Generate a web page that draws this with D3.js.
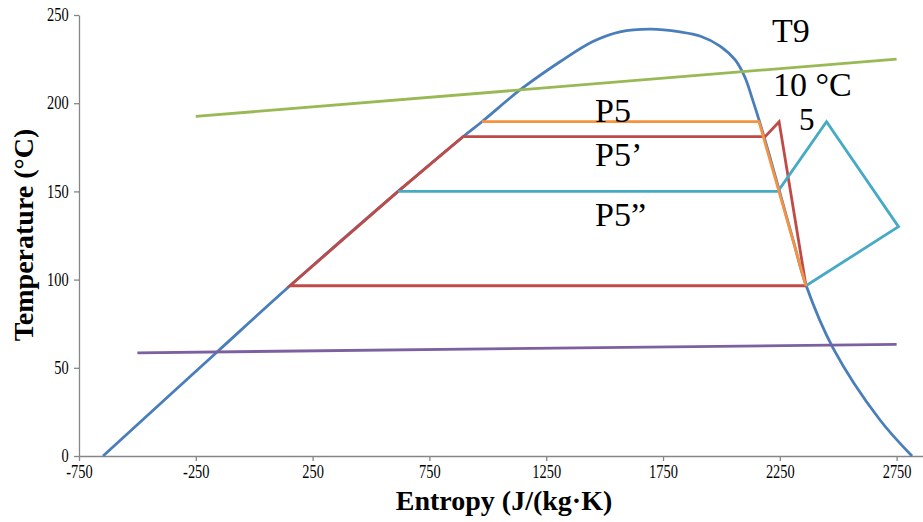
<!DOCTYPE html>
<html>
<head>
<meta charset="utf-8">
<script src="https://cdn.jsdelivr.net/npm/d3@7"></script>
<style>
  html, body { margin: 0; padding: 0; background: #fff; }
  svg { display: block; }
  text { font-family: "Liberation Serif", "Times New Roman", serif; }
</style>
</head>
<body>
<svg id="chart" width="923" height="522"></svg>
<script>
// ---- data ----
const xTicks = [-750, -250, 250, 750, 1250, 1750, 2250, 2750];
const yTicks = [0, 50, 100, 150, 200, 250];

// saturation dome
const domeS = [-647, -159, 153, 616, 894, 975, 1138, 1309, 1450, 1566, 1700, 1823, 1908, 1994, 2059, 2102, 2131, 2161, 2199, 2247, 2307, 2362, 2478, 2679, 2816];
const domeT = [0, 59, 96.5, 150, 181, 189.5, 207.5, 223.5, 235, 240.5, 242, 240.4, 238.1, 232.4, 224.5, 214.3, 203, 190.5, 173.5, 150.8, 122.4, 96.9, 61.2, 20.4, 0];

// heat source (T9) and sink lines
const hotS = [-250, 2750];
const hotT = [192.5, 225];
const coldS = [-500, 2750];
const coldT = [58.5, 63.3];

// cycles
const p5S = [975, 2161, 2362];
const p5T = [189.5, 189.5, 96.5];
const p5pS = [2362, 153, 616, 894, 2187, 2247, 2362];
const p5pT = [96.5, 96.5, 150, 181, 181, 189.5, 96.5];
const p5ppS = [616, 2242, 2450, 2758, 2362];
const p5ppT = [150, 150, 189.5, 130, 96.5];

const annotations = ["T9", "10 °C", "5", "P5", "P5’", "P5”"];

// ---- chart ----
const svg = d3.select("#chart");
const x = d3.scaleLinear().domain([-750, 2863]).range([79, 923]);
const y = d3.scaleLinear().domain([0, 250]).range([456, 15]);

const axisColor = "#868686";

const gx = svg.append("g").attr("transform", "translate(0,456)")
  .call(d3.axisBottom(x).tickValues(xTicks).tickFormat(d => String(d))
    .tickSize(5).tickPadding(4).tickSizeOuter(0));
const gy = svg.append("g").attr("transform", "translate(79,0)")
  .call(d3.axisLeft(y).tickValues(yTicks).tickFormat(d => String(d))
    .tickSize(5).tickPadding(8).tickSizeOuter(0));

[gx, gy].forEach(g => {
  g.select(".domain").attr("stroke", axisColor).attr("stroke-width", 1.3);
  g.selectAll(".tick line").attr("stroke", axisColor).attr("stroke-width", 1.3);
  g.selectAll(".tick text")
    .attr("fill", "#000")
    .style("font-family", "'Liberation Serif', serif")
    .style("font-size", "18px")
    .attr("transform", "scale(0.8,1)");
});

const line = d3.line().x(d => x(d[0])).y(d => y(d[1]));
const dome = d3.line().x(d => x(d[0])).y(d => y(d[1])).curve(d3.curveCatmullRom.alpha(0.5));
const zip = (a, b) => a.map((v, i) => [v, b[i]]);

const plot = svg.append("g");
plot.append("path").datum(zip(domeS, domeT)).attr("d", dome)
  .attr("fill", "none").attr("stroke", "#4A7EBB").attr("stroke-width", 2.8);
plot.append("path").datum(zip(p5pS, p5pT)).attr("d", line)
  .attr("fill", "none").attr("stroke", "#BE4B48").attr("stroke-width", 2.8);
plot.append("path").datum(zip(hotS, hotT)).attr("d", line)
  .attr("fill", "none").attr("stroke", "#98B954").attr("stroke-width", 2.8);
plot.append("path").datum(zip(coldS, coldT)).attr("d", line)
  .attr("fill", "none").attr("stroke", "#7D60A0").attr("stroke-width", 2.8);
plot.append("path").datum(zip(p5ppS, p5ppT)).attr("d", line)
  .attr("fill", "none").attr("stroke", "#46AAC5").attr("stroke-width", 2.8);
plot.append("path").datum(zip(p5S, p5T)).attr("d", line)
  .attr("fill", "none").attr("stroke", "#F69240").attr("stroke-width", 2.8);

// annotations
const annPos = [[772, 42], [773, 96], [799, 130], [595, 122], [595, 166], [595, 226]];
svg.append("g").selectAll("text").data(annotations).join("text")
  .attr("x", (d, i) => annPos[i][0]).attr("y", (d, i) => annPos[i][1])
  .style("font-family", "'Liberation Serif', 'Times New Roman', serif")
  .style("font-size", (d, i) => i === 2 ? "31px" : "34px")
  .attr("fill", "#000").text(d => d);

// axis titles
svg.append("text").attr("x", 504).attr("y", 510).attr("text-anchor", "middle")
  .style("font-size", "28px").style("font-weight", "bold").text("Entropy (J/(kg·K)");
svg.append("text").attr("transform", "translate(33,235) rotate(-90)").attr("text-anchor", "middle")
  .style("font-size", "28px").style("font-weight", "bold").text("Temperature (°C)");
</script>
</body>
</html>
